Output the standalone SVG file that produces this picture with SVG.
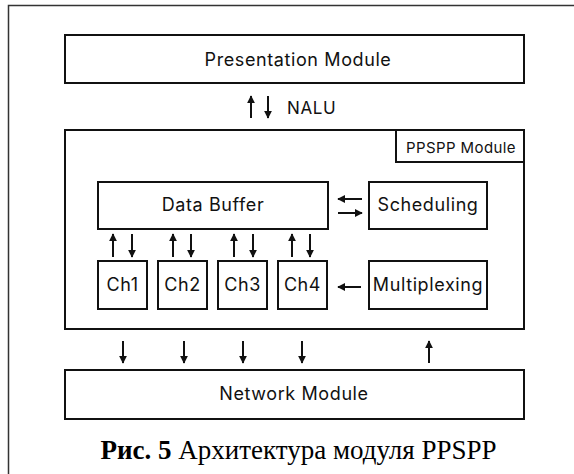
<svg xmlns="http://www.w3.org/2000/svg" width="574" height="474" viewBox="0 0 574 474">
<style>
.box{fill:#fff;stroke:#111;stroke-width:2}
.lbl{font-family:Inter,"Liberation Sans",sans-serif;font-size:18px;font-weight:400;letter-spacing:0.6px;fill:#111;text-anchor:middle}
.small{font-size:15px;letter-spacing:0.4px}
.con line{stroke:#111;stroke-width:2}
.cap{font-family:"Liberation Serif","Times New Roman",serif;font-size:27px;fill:#000;text-anchor:middle}
</style>
<defs>
<marker id="ah" viewBox="0 0 10 10" refX="9" refY="5" markerWidth="4" markerHeight="4" orient="auto" markerUnits="strokeWidth">
<path d="M0,0 L10,5 L0,10 z" fill="#111"/>
</marker>
</defs>
<rect x="0" y="0" width="574" height="474" fill="#fff"/>
<path d="M8.5,480 V5.5 H580" fill="none" stroke="#333" stroke-width="1.5"/>
<g id="presentation">
<rect class="box" x="65" y="35" width="459" height="48"/>
<text class="lbl" x="298" y="66">Presentation Module</text>
</g>
<g id="ppspp">
<rect class="box" x="65" y="130" width="459" height="199"/>
<path d="M396,130 V162 H524" fill="none" stroke="#111" stroke-width="2"/>
<text class="lbl small" x="461" y="153">PPSPP Module</text>
</g>
<g id="databuffer">
<rect class="box" x="98" y="182" width="230" height="47"/>
<text class="lbl" x="213" y="211">Data Buffer</text>
</g>
<g id="scheduling">
<rect class="box" x="369" y="182" width="118" height="47"/>
<text class="lbl" x="428" y="211">Scheduling</text>
</g>
<g id="multiplexing">
<rect class="box" x="369" y="261" width="118" height="48"/>
<text class="lbl" x="428" y="291">Multiplexing</text>
</g>
<g id="ch1">
<rect class="box" x="98" y="261" width="49" height="48"/>
<text class="lbl" x="122.5" y="291">Ch1</text>
</g>
<g id="ch2">
<rect class="box" x="158" y="261" width="49" height="48"/>
<text class="lbl" x="182.5" y="291">Ch2</text>
</g>
<g id="ch3">
<rect class="box" x="218" y="261" width="49" height="48"/>
<text class="lbl" x="242.5" y="291">Ch3</text>
</g>
<g id="ch4">
<rect class="box" x="278" y="261" width="49" height="48"/>
<text class="lbl" x="302.5" y="291">Ch4</text>
</g>
<g id="network">
<rect class="box" x="65" y="370" width="459" height="49"/>
<text class="lbl" x="294" y="399.5">Network Module</text>
</g>
<g class="con" id="connectors">
<line x1="251" y1="118" x2="251" y2="96" marker-end="url(#ah)"/>
<line x1="268" y1="96" x2="268" y2="118" marker-end="url(#ah)"/>
<line x1="113" y1="257" x2="113" y2="234" marker-end="url(#ah)"/>
<line x1="132" y1="234" x2="132" y2="257" marker-end="url(#ah)"/>
<line x1="173" y1="257" x2="173" y2="234" marker-end="url(#ah)"/>
<line x1="191" y1="234" x2="191" y2="257" marker-end="url(#ah)"/>
<line x1="234" y1="257" x2="234" y2="234" marker-end="url(#ah)"/>
<line x1="253" y1="234" x2="253" y2="257" marker-end="url(#ah)"/>
<line x1="292" y1="257" x2="292" y2="234" marker-end="url(#ah)"/>
<line x1="310" y1="234" x2="310" y2="257" marker-end="url(#ah)"/>
<line x1="362" y1="199" x2="338" y2="199" marker-end="url(#ah)"/>
<line x1="338" y1="213" x2="362" y2="213" marker-end="url(#ah)"/>
<line x1="361" y1="287" x2="338" y2="287" marker-end="url(#ah)"/>
<line x1="123" y1="341" x2="123" y2="363" marker-end="url(#ah)"/>
<line x1="184" y1="341" x2="184" y2="363" marker-end="url(#ah)"/>
<line x1="243" y1="341" x2="243" y2="363" marker-end="url(#ah)"/>
<line x1="302" y1="341" x2="302" y2="363" marker-end="url(#ah)"/>
<line x1="429" y1="363" x2="429" y2="341" marker-end="url(#ah)"/>
</g>
<text class="lbl" x="287" y="114" style="text-anchor:start;font-size:17px">NALU</text>
<text class="cap" x="298.5" y="459"><tspan font-weight="bold">Рис. 5</tspan> Архитектура модуля PPSPP</text>
</svg>
